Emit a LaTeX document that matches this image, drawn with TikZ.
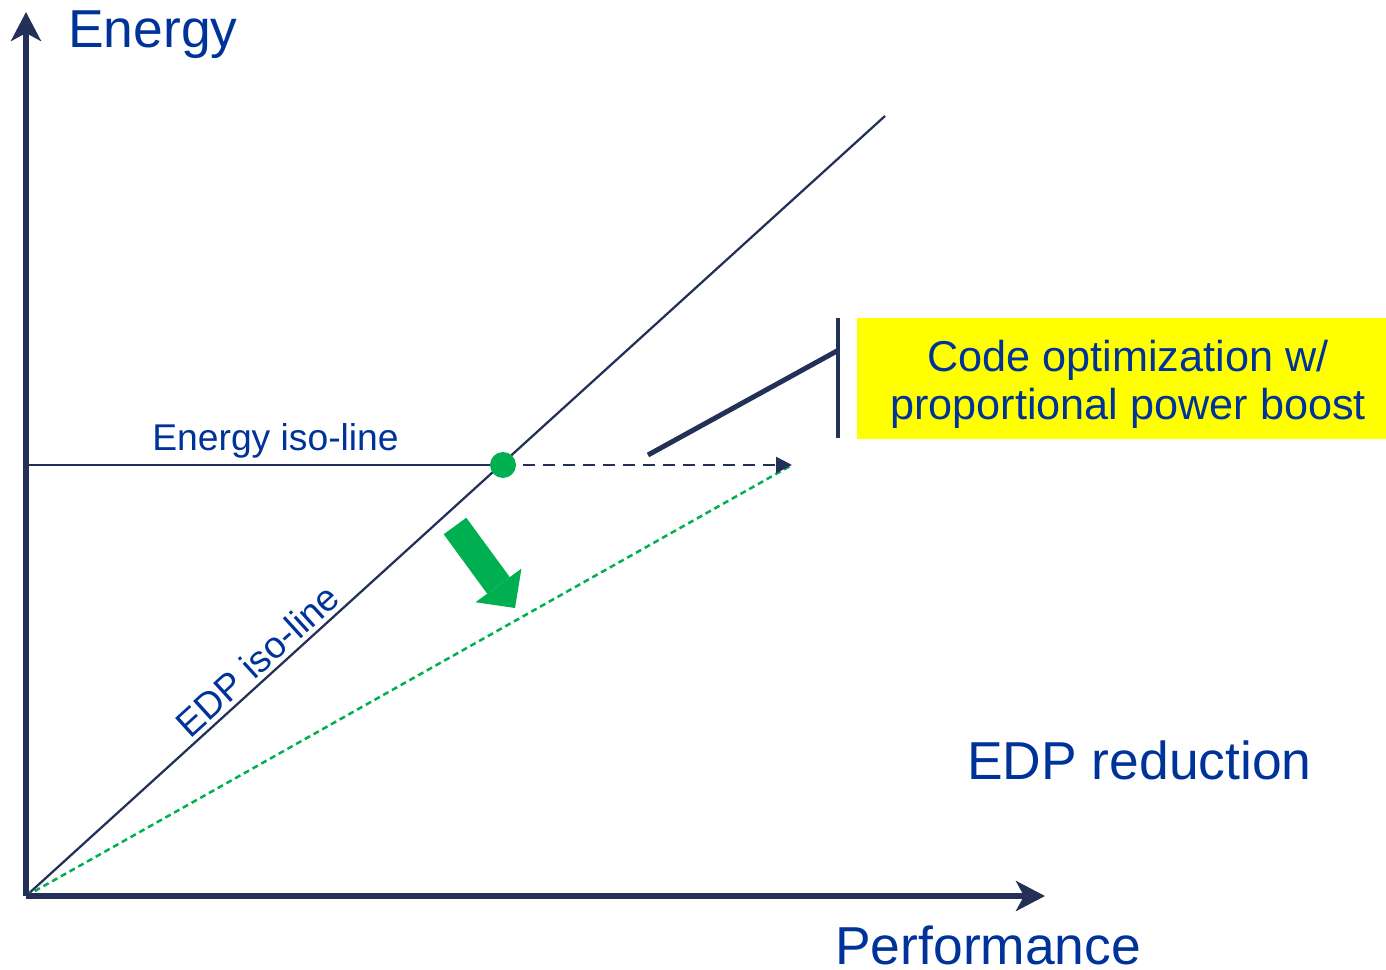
\documentclass[tikz,border=0pt]{standalone}
\usepackage{fontspec}
\setmainfont{Liberation Sans}
\usetikzlibrary{arrows.meta,calc}
\definecolor{navy}{RGB}{35,48,88}
\definecolor{textblue}{RGB}{0,51,153}
\definecolor{pptgreen}{RGB}{0,176,80}
\definecolor{boxyellow}{RGB}{255,255,0}

\begin{document}
\begin{tikzpicture}[x=0.02cm,y=-0.02cm]
    \tikzstyle{axis}=[navy,line width=0.12cm,-{Stealth[length=0.58cm,width=0.6cm,inset=0.16cm]}]
    \tikzstyle{isoline}=[navy,line width=0.045cm]
    \tikzstyle{biglabel}=[textblue,inner sep=0,font=\fontsize{30.4}{35}\selectfont]
    \tikzstyle{smalllabel}=[textblue,inner sep=0,font=\fontsize{21.2}{24}\selectfont]
    \useasboundingbox (0,0) rectangle (1386,970);

    \coordinate (O) at (26,896);
    \coordinate (ytip) at (26,12);
    \coordinate (xtip) at (1045,896);
    \coordinate (top) at (885,116);
    \coordinate (left) at (26,465);
    \coordinate (dot) at (503,465);
    \coordinate (dashend) at (792,465);

    % iso-lines
    \draw[isoline] (O) -- (top);
    \draw[isoline] (left) -- (dot);
    \path (O) -- (top) node [pos=0.284, sloped, above, smalllabel, inner sep=0.1cm] (edplabel) {EDP iso-line};
    \node at (152,450) (energylabel) [smalllabel, anchor=base west] {Energy iso-line};

    % shifted point and new line
    \draw[pptgreen, line width=0.05cm, dash pattern=on 0.12cm off 0.08cm] (O) -- (dashend);
    \draw[navy, line width=0.05cm, dash pattern=on 0.24cm off 0.16cm, -{Triangle[length=0.32cm,width=0.32cm]}] (dot) -- (dashend);
    \fill[pptgreen] (dot) circle (0.26cm);

    \coordinate (gfrom) at (455,526);
    \coordinate (gto) at (515,608);
    \draw[pptgreen, line width=0.56cm, -{Triangle[length=0.56cm,width=1.14cm,line width=0pt 0]}] (gfrom) -- (gto);

    % callout
    \node at (1121.5,378.5) (box) [fill=boxyellow, minimum width=10.58cm, minimum height=2.42cm, inner sep=0] {};
    \node at (1128,384) (boxtext) [textblue, inner sep=0, align=center, font=\fontsize{24.6}{27.3}\selectfont] {Code optimization w/\\proportional power boost};
    \coordinate (barhigh) at (838,318);
    \coordinate (barlow) at (838,438);
    \coordinate (calloutfrom) at (648,455);
    \draw[navy, line width=0.08cm] (barhigh) -- (barlow);
    \draw[navy, line width=0.1cm] (calloutfrom) -- ($(barhigh)!0.27!(barlow)$);

    % axes
    \draw[axis] (O) -- (ytip);
    \draw[axis] (O) -- (xtip);
    \node at (68,48) (energy) [biglabel, anchor=base west] {Energy};
    \node at (835,964) (performance) [biglabel, anchor=base west] {Performance};
    \node at (967,779) (edpreduction) [biglabel, anchor=base west] {EDP reduction};
\end{tikzpicture}
\end{document}
